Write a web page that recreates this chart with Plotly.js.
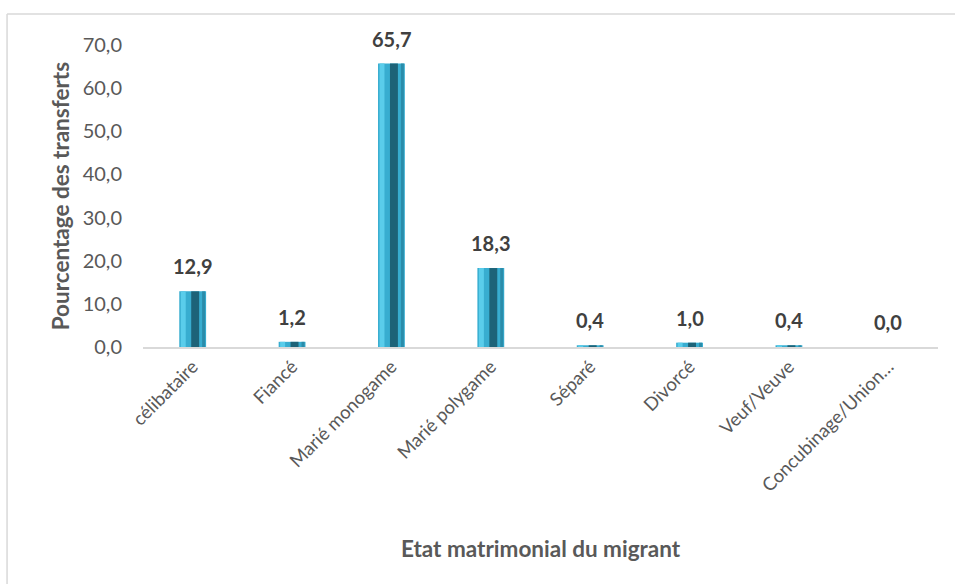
<!DOCTYPE html>
<html>
<head>
<meta charset="utf-8">
<script src="https://cdn.plot.ly/plotly-3.0.1.min.js"></script>
<style>html,body{margin:0;padding:0;background:#fff;}#chart{width:955px;height:584px;}</style>
</head>
<body>
<div id="chart"></div>
<script>
const categories = ["célibataire", "Fiancé", "Marié monogame", "Marié polygame", "Séparé", "Divorcé", "Veuf/Veuve", "Concubinage/Union…"];
const values = [12.9, 1.2, 65.7, 18.3, 0.4, 1.0, 0.4, 0.0];
const valueLabels = ["12,9", "1,2", "65,7", "18,3", "0,4", "1,0", "0,4", "0,0"];
const yTickVals = [0, 10, 20, 30, 40, 50, 60, 70];
const yTickText = ["0,0", "10,0", "20,0", "30,0", "40,0", "50,0", "60,0", "70,0"];

const FONT = "Lato, 'Open Sans', sans-serif";

const traces = [
  {type: 'bar', x: categories, y: values, width: 0.27,
   marker: {color: '#38ADD0', line: {width: 0}}, hoverinfo: 'none'},
  {type: 'bar', x: categories, y: values, width: 0.05, offset: -0.12,
   marker: {color: '#5ACDEB', line: {width: 0}}, hoverinfo: 'none'},
  {type: 'bar', x: categories, y: values, width: 0.08, offset: -0.015,
   marker: {color: '#1D6378', line: {width: 0}}, hoverinfo: 'none'},
  {type: 'bar', x: categories, y: values, width: 0.03, offset: 0.095,
   marker: {color: '#2A8CAA', line: {width: 0}}, hoverinfo: 'none'}
];

const annotations = categories.map((c, i) => ({
  x: c, y: values[i], xref: 'x', yref: 'y', text: '<b>' + valueLabels[i] + '</b>',
  showarrow: false, yanchor: 'bottom', yshift: 11,
  font: {family: FONT, size: 20, color: '#404040'}
}));
annotations.push({
  xref: 'paper', yref: 'paper', x: 0.5, y: -0.666, xanchor: 'center', yanchor: 'middle',
  text: '<b>Etat matrimonial du migrant</b>', showarrow: false,
  font: {family: FONT, size: 22.5, color: '#595959'}
});
annotations.push({
  xref: 'paper', yref: 'paper', x: -0.104, y: 0.5, xanchor: 'center', yanchor: 'middle',
  text: '<b>Pourcentage des transferts</b>', showarrow: false, textangle: -90,
  font: {family: FONT, size: 22.5, color: '#595959'}
});

const layout = {
  width: 955, height: 584,
  margin: {l: 143, r: 17, t: 45, b: 237},
  paper_bgcolor: '#ffffff', plot_bgcolor: '#ffffff',
  barmode: 'overlay', bargap: 0.7, showlegend: false,
  xaxis: {
    type: 'category', tickangle: -45, showgrid: false, zeroline: false,
    showline: true, linecolor: '#D9D9D9', linewidth: 1.5, ticks: '',
    tickfont: {family: FONT, size: 18.5, color: '#595959'}, fixedrange: true
  },
  yaxis: {
    range: [0, 70], tickvals: yTickVals, ticktext: yTickText,
    showgrid: false, zeroline: false, showline: false, ticks: '',
    ticklabelstandoff: 20,
    tickfont: {family: FONT, size: 20, color: '#595959'}, fixedrange: true
  },
  annotations: annotations,
  shapes: [
    {type: 'line', xref: 'paper', yref: 'paper', x0: -0.171, x1: 1.05, y0: 1.1026, y1: 1.1026, line: {color: '#D9D9D9', width: 1.5}},
    {type: 'line', xref: 'paper', yref: 'paper', x0: -0.171, x1: -0.171, y0: 1.1026, y1: -0.8, line: {color: '#D9D9D9', width: 1.5}}
  ]
};

Plotly.newPlot('chart', traces, layout, {displayModeBar: false, staticPlot: true});
</script>
</body>
</html>
